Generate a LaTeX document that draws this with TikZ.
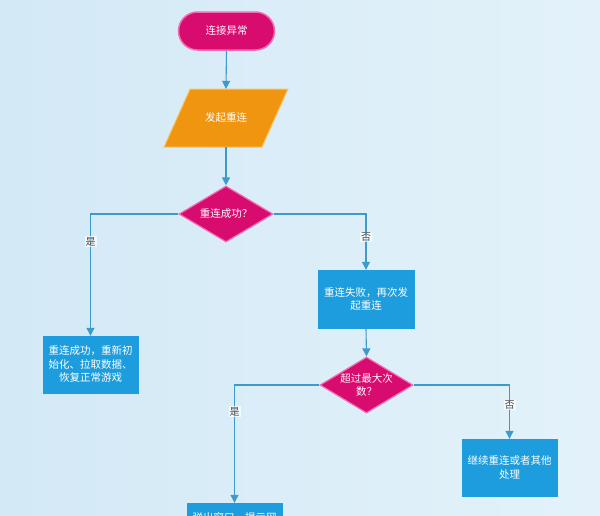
\documentclass[tikz,border=0pt]{standalone}
\usepackage{fontspec}
\setmainfont{Noto Sans CJK SC}
\usetikzlibrary{shapes.geometric,arrows.meta}
\definecolor{bgL}{HTML}{D3E9F6}
\definecolor{bgR}{HTML}{E3F2FA}
\definecolor{mag}{HTML}{D80B6F}
\definecolor{magB}{HTML}{F26DB3}
\definecolor{org}{HTML}{F0950F}
\definecolor{orgB}{HTML}{F8C766}
\definecolor{blu}{HTML}{1D9DDD}
\definecolor{conncol}{HTML}{3D9BCB}
\definecolor{lbl}{HTML}{4A4A4A}
\begin{document}
\begin{tikzpicture}[x=1pt,y=-1pt,
  every node/.style={font=\fontsize{10.5}{13.5}\selectfont},
  term/.style={draw=magB, line width=1.5pt, fill=mag, rounded corners=19pt,
    minimum width=96pt, minimum height=38pt, inner sep=0pt, text=white},
  parashape/.style={draw=orgB, line width=1pt, fill=org},
  ghost/.style={inner sep=0pt, minimum width=96pt, minimum height=58pt, text=white},
  dia/.style={diamond, draw=magB, line width=1.2pt, fill=mag, inner sep=0pt,
    minimum width=94pt, minimum height=56pt},
  diatext/.style={text=white, align=center, inner sep=0pt},
  stepbox/.style={draw=blu, fill=blu, inner sep=0pt, minimum width=95pt,
    minimum height=57pt, text=white, align=center},
  conn/.style={draw=conncol, line width=1.1pt, -{Triangle[length=8pt,width=8pt]}},
  lab/.style={fill=white, fill opacity=0.7, text opacity=1, text=lbl,
    inner sep=1pt, font=\fontsize{10}{12}\selectfont}
]
\useasboundingbox (0,0) rectangle (600,515);
\clip (0,0) rectangle (600,515);
\shade[left color=bgL, right color=bgR] (0,0) rectangle (600,515);

% start
\node[term] (t) at (226.5,31) {连接异常};

% parallelogram
\draw[parashape] (164,147) -- (190,89) -- (288,89) -- (262,147) -- cycle;
\node[ghost] (p) at (226,118) {发起重连};

% decision 1
\node[dia] (d1) at (226,214) {};
\node[diatext] at (d1) {重连成功？};

% boxes
\node[stepbox] (b1) at (90.5,364.5) {重连成功，重新初\\始化、拉取数据、\\恢复正常游戏};
\node[stepbox, minimum width=96pt, minimum height=58pt] (b2) at (366,299) {重连失败，再次发\\起重连};

% decision 2
\node[dia, minimum width=93pt] (d2) at (366.5,385) {};
\node[diatext] at (d2) {超过最大次\\数？};

\node[stepbox] (b3) at (509.5,467.5) {继续重连或者其他\\处理};
\node[stepbox] (b4) at (234.5,531.5) {};
\node[text=white, inner sep=0pt] (b4t) at (234.5,518) {弹出窗口，提示网};

% connectors
\draw[conn] (t.south) -- (p.north);
\draw[conn] (p.south) -- (d1.north);
\draw[conn] (d1.west) -| (b1.north) node[lab, pos=0.613] {是};
\draw[conn] (d1.east) -| (b2.north) node[lab, pos=0.705] {否};
\draw[conn] (b2.south) -- (d2.north);
\draw[conn] (d2.west) -| (b4.north) node[lab, pos=0.614] {是};
\draw[conn] (d2.east) -| (b3.north) node[lab, pos=0.685] {否};
\end{tikzpicture}
\end{document}
